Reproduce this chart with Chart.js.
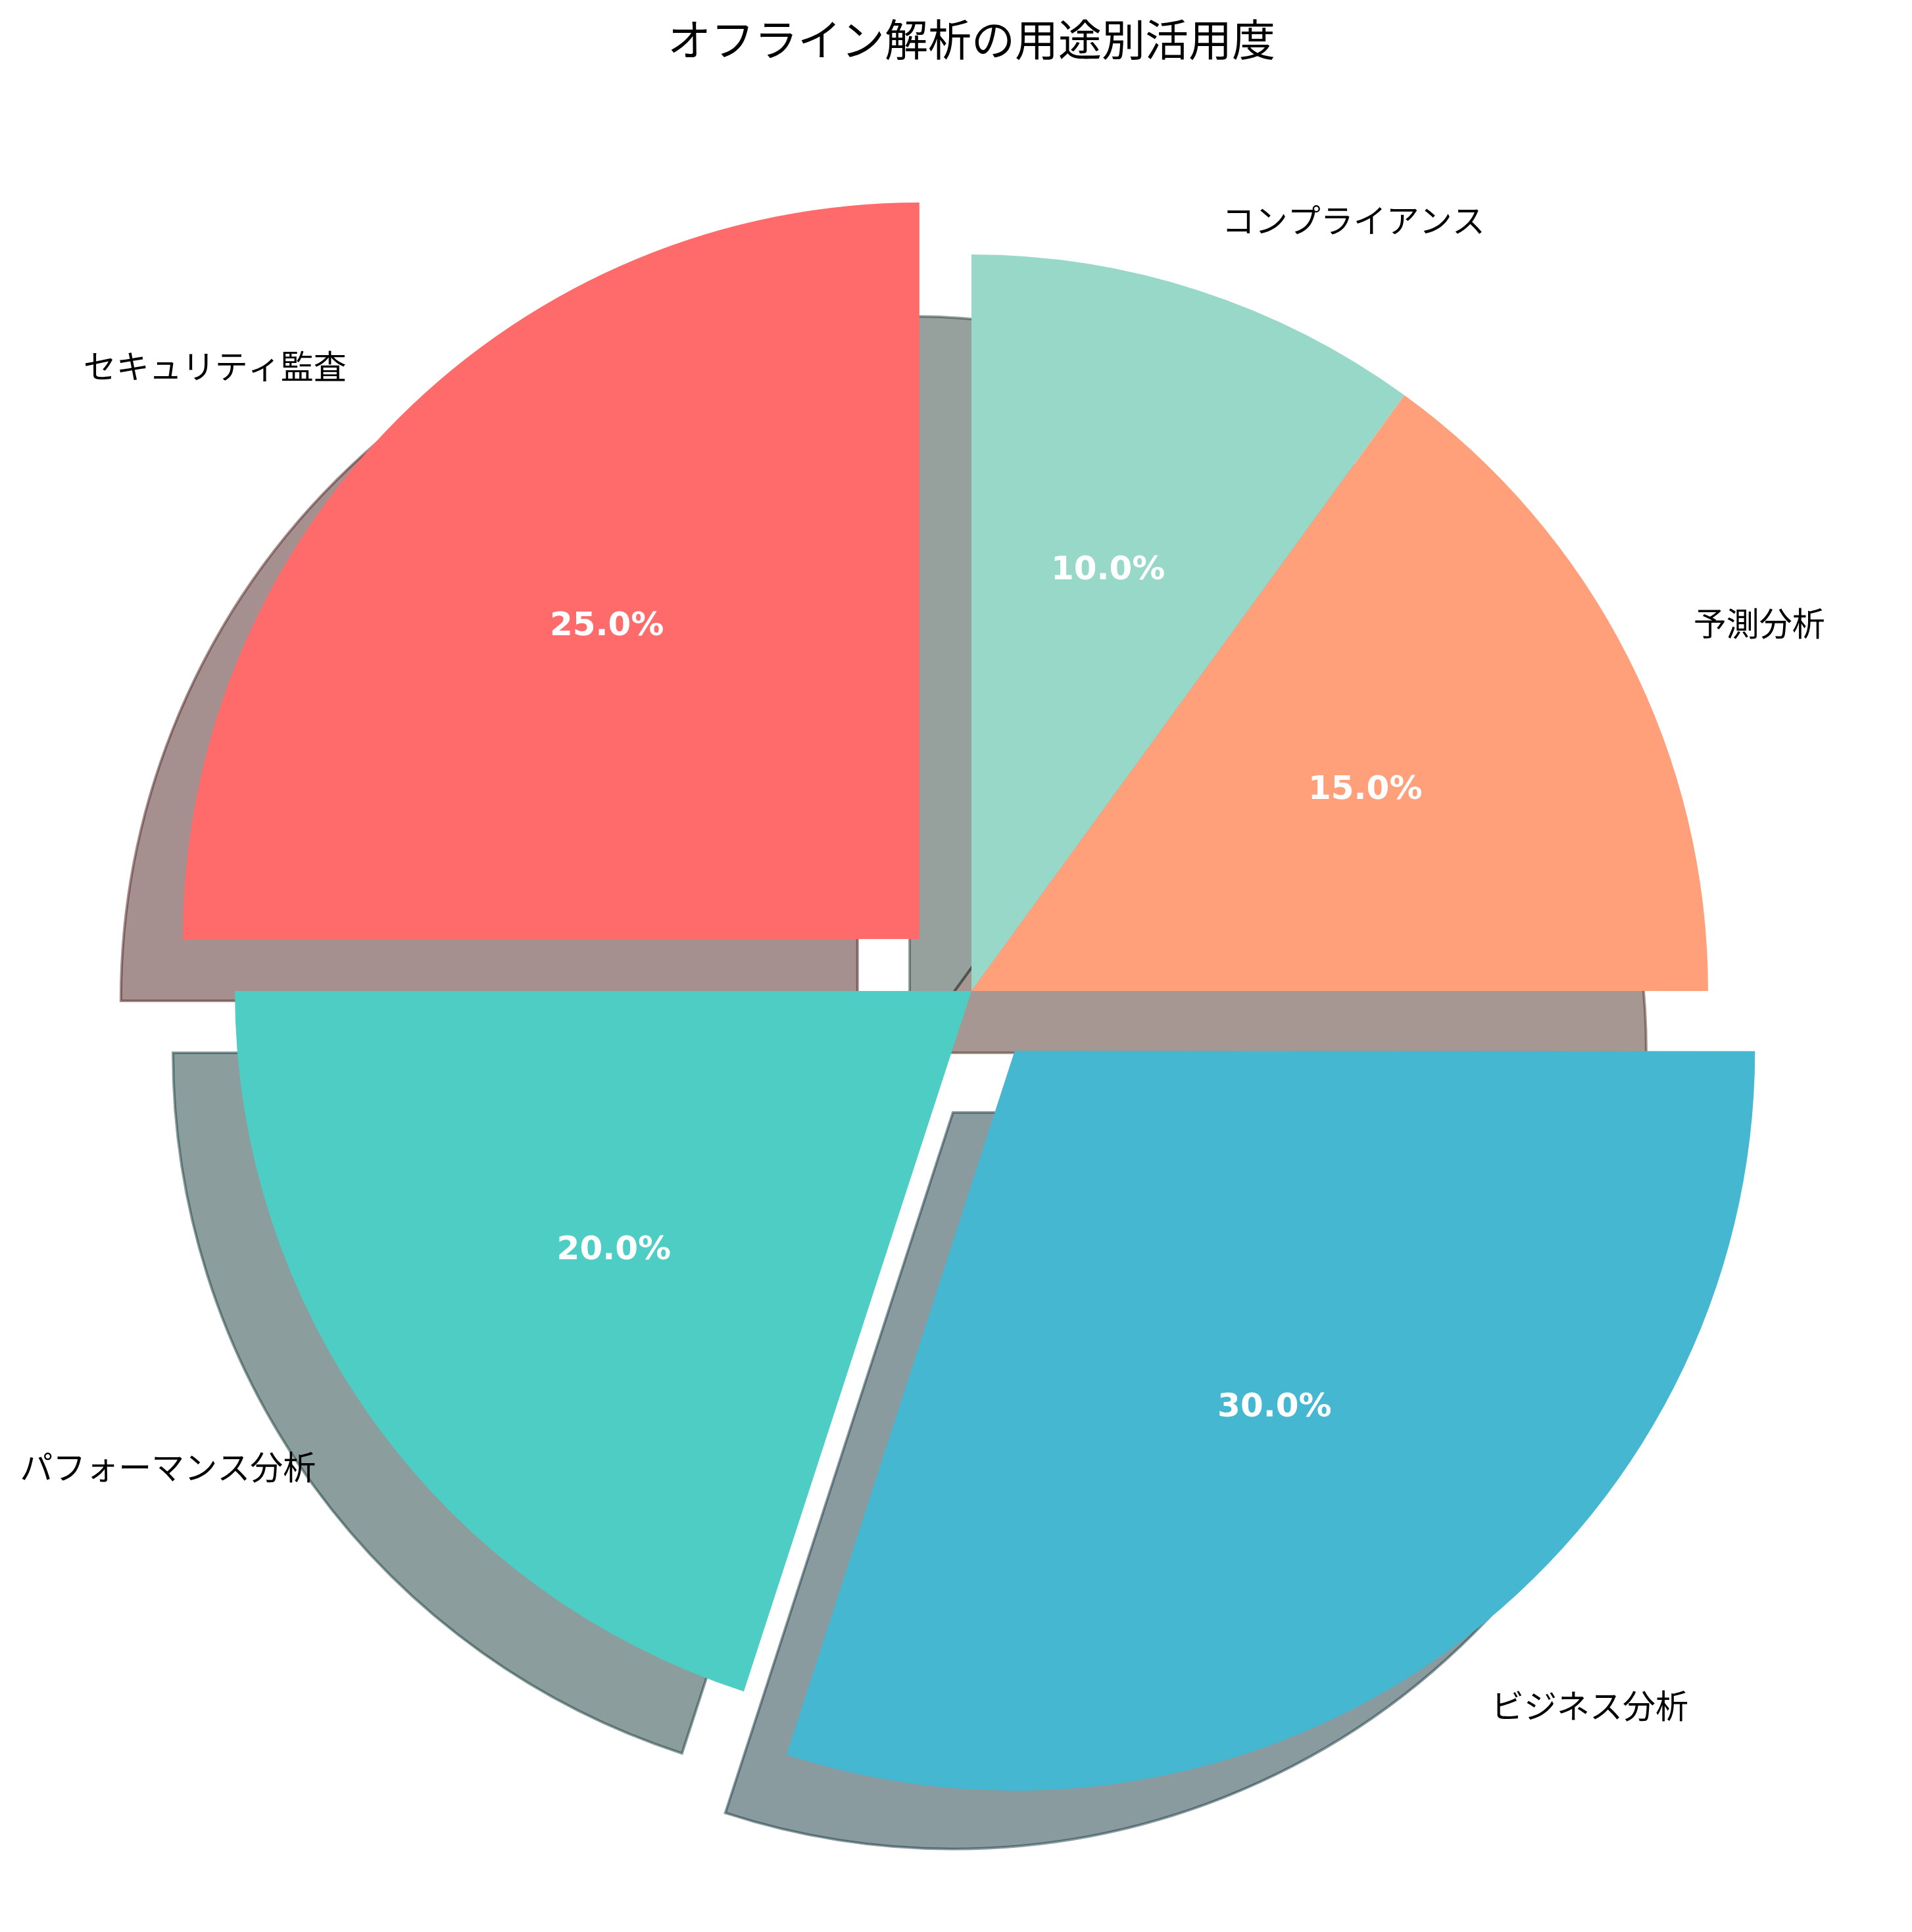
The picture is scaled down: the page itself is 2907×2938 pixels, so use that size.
<!DOCTYPE html>
<html>
<head>
<meta charset="utf-8">
<title>オフライン解析の用途別活用度</title>
<script src="https://cdn.jsdelivr.net/npm/chart.js@4.4.1/dist/chart.umd.min.js"></script>
<style>
  html, body { margin: 0; padding: 0; background: #ffffff; }
  #wrap { width: 2907px; height: 2938px; }
</style>
</head>
<body>
<div id="wrap"><canvas id="pieChart" width="2907" height="2938"></canvas></div>
<script>
// data, in the order the slices go round (counterclockwise from 12 o'clock)
const categories = ['セキュリティ監査', 'パフォーマンス分析', 'ビジネス分析', '予測分析', 'コンプライアンス'];
const usage = [25, 20, 30, 15, 10];

// look
const sliceColors = ['#FF6B6B', '#4ECDC4', '#45B7D1', '#FFA07A', '#98D8C8'];
const explode = [0.1, 0, 0.1, 0, 0];      // fraction of the radius
const RADIUS = 1120;
const SHADOW_DX = -94, SHADOW_DY = 94;

// chart.js goes clockwise, so feed it the reverse order
const order = categories.map((_, i) => categories.length - 1 - i);
const total = usage.reduce((a, b) => a + b, 0);

function rgb(hex) {
  const n = parseInt(hex.slice(1), 16);
  return [(n >> 16) & 255, (n >> 8) & 255, n & 255];
}

function sliceGeom(arc) {
  const p = arc.getProps(['x', 'y', 'startAngle', 'endAngle', 'outerRadius'], true);
  const mid = (p.startAngle + p.endAngle) / 2;
  const d = (arc.options.offset || 0) / 4;   // arcs translate by offset/4 when drawn
  return { cx: p.x + Math.cos(mid) * d, cy: p.y + Math.sin(mid) * d, mid: mid,
           start: p.startAngle, end: p.endAngle, r: p.outerRadius };
}

const shadowPlugin = {
  id: 'pieShadow',
  beforeDatasetsDraw(chart) {
    const ctx = chart.ctx;
    const arcs = chart.getDatasetMeta(0).data;
    // shadows go in the same sequence as matplotlib adds them
    const seq = arcs.map((a, k) => k).reverse();
    seq.forEach(k => {
      const g = sliceGeom(arcs[k]);
      const c = rgb(chart.data.datasets[0].backgroundColor[k]).map(v => Math.round(v * 0.3));
      const col = 'rgba(' + c.join(',') + ',0.5)';
      ctx.save();
      ctx.beginPath();
      ctx.moveTo(g.cx + SHADOW_DX, g.cy + SHADOW_DY);
      ctx.arc(g.cx + SHADOW_DX, g.cy + SHADOW_DY, g.r, g.start, g.end);
      ctx.closePath();
      ctx.fillStyle = col;
      ctx.fill();
      ctx.lineWidth = 4;
      ctx.strokeStyle = col;
      ctx.stroke();
      ctx.restore();
    });
  }
};

const labelPlugin = {
  id: 'pieLabels',
  afterDatasetsDraw(chart) {
    const ctx = chart.ctx;
    const arcs = chart.getDatasetMeta(0).data;
    const vals = chart.data.datasets[0].data;
    arcs.forEach((arc, k) => {
      const g = sliceGeom(arc);
      const cos = Math.cos(g.mid), sin = Math.sin(g.mid);
      ctx.save();
      ctx.textBaseline = 'middle';
      // category name outside
      ctx.font = '50px "Noto Sans CJK JP"';
      ctx.fillStyle = '#000000';
      ctx.textAlign = cos > 0 ? 'left' : 'right';
      ctx.fillText(chart.data.labels[k], g.cx + cos * g.r * 1.1, g.cy + sin * g.r * 1.1);
      // percentage inside
      ctx.font = 'bold 50px "DejaVu Sans"';
      ctx.fillStyle = '#ffffff';
      ctx.textAlign = 'center';
      ctx.fillText((vals[k] / total * 100).toFixed(1) + '%', g.cx + cos * g.r * 0.6, g.cy + sin * g.r * 0.6);
      ctx.restore();
    });
  }
};

new Chart(document.getElementById('pieChart'), {
  type: 'pie',
  data: {
    labels: order.map(i => categories[i]),
    datasets: [{
      data: order.map(i => usage[i]),
      backgroundColor: order.map(i => sliceColors[i]),
      offset: order.map(i => explode[i] * RADIUS * 4),
      borderWidth: 0,
      radius: RADIUS
    }]
  },
  options: {
    responsive: false,
    devicePixelRatio: 1,
    animation: false,
    events: [],
    layout: { padding: { left: 47, right: 0, top: 0, bottom: 43 } },
    plugins: {
      legend: { display: false },
      tooltip: { enabled: false },
      title: {
        display: true,
        text: 'オフライン解析の用途別活用度',
        color: '#000000',
        font: { family: '"Noto Sans CJK JP"', size: 66, weight: 'normal' },
        padding: { top: 20, bottom: 20 }
      }
    }
  },
  plugins: [shadowPlugin, labelPlugin]
});
</script>
</body>
</html>
